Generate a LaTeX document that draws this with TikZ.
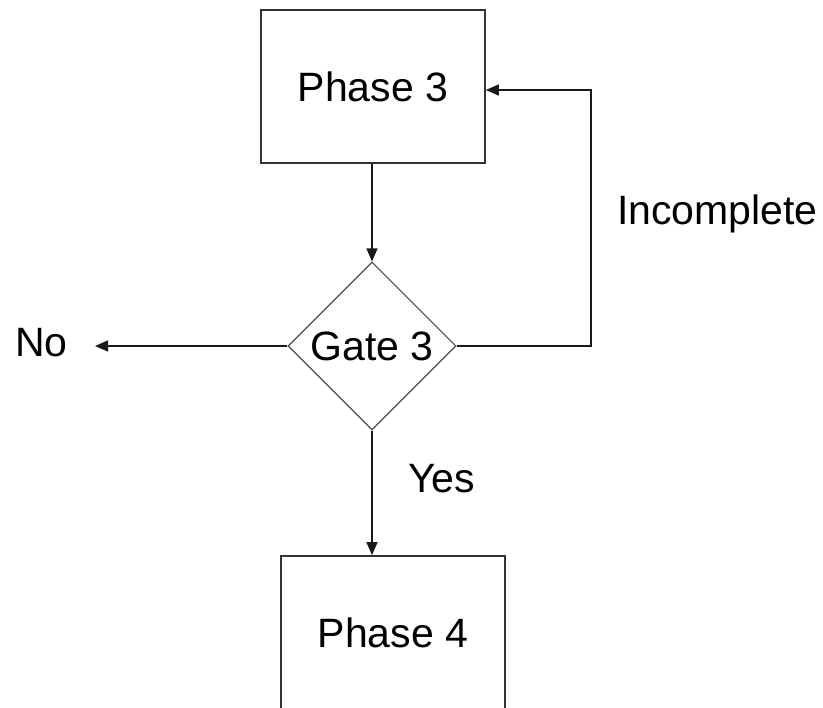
\documentclass[tikz,border=0pt]{standalone}
\usepackage{fontspec}
\setmainfont{Liberation Sans}
\usetikzlibrary{shapes.geometric,arrows.meta}
\begin{document}
\begin{tikzpicture}[x=1pt,y=-1pt,
  every node/.style={font=\fontsize{41}{49}\selectfont},
  phasebox/.style={draw=black!80,line width=1.6pt,minimum width=224pt,minimum height=153pt,inner sep=0pt},
  gatebox/.style={diamond,draw=black!70,line width=1.1pt,minimum width=168pt,minimum height=168pt,inner sep=0pt,aspect=1},
  conn/.style={draw=black!90,line width=1.2pt,-{Triangle[length=13pt,width=11pt]}},
  lbl/.style={inner sep=0pt,anchor=base west}]
\useasboundingbox (0,0) rectangle (823,708);
\node[phasebox] (p3) at (373,86.5) {Phase 3};
\node[gatebox] (g3) at (372,346) {Gate 3};
\node[phasebox] (p4) at (393,632.5) {Phase 4};
\coordinate (noend) at (95,346);
\coordinate (c1) at (591,346);
\coordinate (c2) at (591,90);
\coordinate (c3) at (p3.east |- c2);
\node[lbl] (no) at (15,357) {No};
\node[lbl] (inc) at (617,225) {Incomplete};
\node[lbl] (yes) at (408,493) {Yes};
\draw[conn] (p3.south -| g3.north) -- (g3.north);
\draw[conn] (g3.west) -- (noend);
\draw[conn] (g3.east) -- (c1) -- (c2) -- (c3);
\draw[conn] (g3.south) -- (g3.south |- p4.north);
\end{tikzpicture}
\end{document}
